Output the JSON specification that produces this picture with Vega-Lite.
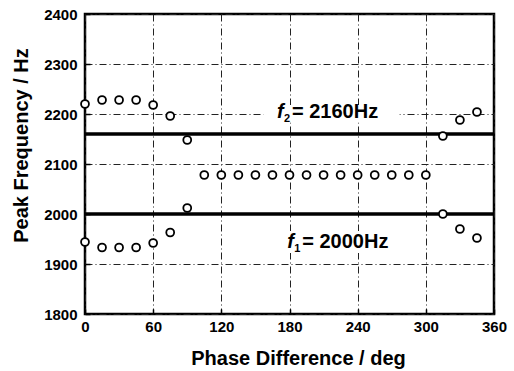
{
  "$schema": "https://vega.github.io/schema/vega-lite/v6.json",
  "width": 409,
  "height": 300,
  "autosize": "none",
  "padding": {"left": 85, "top": 14, "right": 20, "bottom": 57},
  "background": "white",
  "config": {
    "view": {"stroke": "black", "strokeWidth": 2.5},
    "axis": {
      "labelFont": "Liberation Sans",
      "labelFontWeight": "bold",
      "labelFontSize": 15,
      "labelColor": "black",
      "labelFlush": false,
      "titleFont": "Liberation Sans",
      "titleFontWeight": "bold",
      "titleFontSize": 20,
      "titleColor": "black",
      "grid": true,
      "gridColor": "#222",
      "gridWidth": 1,
      "gridDash": [7, 3, 1, 3],
      "domain": false,
      "tickColor": "black",
      "tickSize": -5,
      "tickWidth": 1.5,
      "format": "d"
    }
  },
  "datasets": {
    "pts": [
      {"phase": 0, "freq": 2220}, {"phase": 15, "freq": 2228}, {"phase": 30, "freq": 2228}, {"phase": 45, "freq": 2228},
      {"phase": 60, "freq": 2218}, {"phase": 75, "freq": 2196}, {"phase": 90, "freq": 2148},
      {"phase": 0, "freq": 1944}, {"phase": 15, "freq": 1933}, {"phase": 30, "freq": 1933}, {"phase": 45, "freq": 1933},
      {"phase": 60, "freq": 1942}, {"phase": 75, "freq": 1963}, {"phase": 90, "freq": 2012},
      {"phase": 105, "freq": 2078}, {"phase": 120, "freq": 2078}, {"phase": 135, "freq": 2078}, {"phase": 150, "freq": 2078},
      {"phase": 165, "freq": 2078}, {"phase": 180, "freq": 2078}, {"phase": 195, "freq": 2078}, {"phase": 210, "freq": 2078},
      {"phase": 225, "freq": 2078}, {"phase": 240, "freq": 2078}, {"phase": 255, "freq": 2078}, {"phase": 270, "freq": 2078},
      {"phase": 285, "freq": 2078}, {"phase": 300, "freq": 2078},
      {"phase": 315, "freq": 2156}, {"phase": 330, "freq": 2188}, {"phase": 345, "freq": 2204},
      {"phase": 315, "freq": 2000}, {"phase": 330, "freq": 1970}, {"phase": 345, "freq": 1952}
    ],
    "lines": [{"freq": 2160}, {"freq": 2000}],
    "boxes": [
      {"x1": 157, "x2": 277, "y1": 2183, "y2": 2218},
      {"x1": 170, "x2": 284, "y1": 1922, "y2": 1966}
    ],
    "labels": [
      {"phase": 169, "freq": 2192, "sub": "2", "rest": "= 2160Hz"},
      {"phase": 178, "freq": 1932, "sub": "1", "rest": "= 2000Hz"}
    ]
  },
  "layer": [
    {
      "data": {"name": "boxes"},
      "mark": {"type": "rect", "fill": "white"},
      "encoding": {
        "x": {"field": "x1", "type": "quantitative", "scale": {"domain": [0, 360], "nice": false, "zero": false, "padding": 0},
              "axis": {"values": [0, 60, 120, 180, 240, 300, 360], "title": "Phase Difference / deg", "labelPadding": 10,
                       "titleX": 213, "titleY": 50, "titleBaseline": "alphabetic"}},
        "x2": {"field": "x2"},
        "y": {"field": "y1", "type": "quantitative", "scale": {"domain": [1800, 2400], "nice": false, "zero": false, "padding": 0},
              "axis": {"values": [1800, 1900, 2000, 2100, 2200, 2300, 2400], "title": "Peak Frequency / Hz", "labelPadding": 13,
                       "titlePadding": 12, "titleY": 131}},
        "y2": {"field": "y2"}
      }
    },
    {
      "data": {"name": "lines"},
      "mark": {"type": "rule", "color": "black", "strokeWidth": 3.5},
      "encoding": {"y": {"field": "freq", "type": "quantitative"}}
    },
    {
      "data": {"name": "pts"},
      "mark": {"type": "point", "shape": "circle", "filled": false, "fill": "white", "fillOpacity": 1, "stroke": "black", "strokeWidth": 1.8, "size": 62, "opacity": 1},
      "encoding": {
        "x": {"field": "phase", "type": "quantitative"},
        "y": {"field": "freq", "type": "quantitative"}
      }
    },
    {
      "data": {"name": "labels"},
      "mark": {"type": "text", "text": "f", "font": "Liberation Sans", "fontStyle": "italic", "fontWeight": "bold", "fontSize": 20, "align": "left", "baseline": "alphabetic", "color": "black"},
      "encoding": {
        "x": {"field": "phase", "type": "quantitative"},
        "y": {"field": "freq", "type": "quantitative"}
      }
    },
    {
      "data": {"name": "labels"},
      "mark": {"type": "text", "font": "Liberation Sans", "fontWeight": "bold", "fontSize": 11, "align": "left", "baseline": "alphabetic", "dx": 7, "dy": 4, "color": "black"},
      "encoding": {
        "x": {"field": "phase", "type": "quantitative"},
        "y": {"field": "freq", "type": "quantitative"},
        "text": {"field": "sub"}
      }
    },
    {
      "data": {"name": "labels"},
      "mark": {"type": "text", "font": "Liberation Sans", "fontWeight": "bold", "fontSize": 20, "align": "left", "baseline": "alphabetic", "dx": 15, "color": "black"},
      "encoding": {
        "x": {"field": "phase", "type": "quantitative"},
        "y": {"field": "freq", "type": "quantitative"},
        "text": {"field": "rest"}
      }
    }
  ]
}
